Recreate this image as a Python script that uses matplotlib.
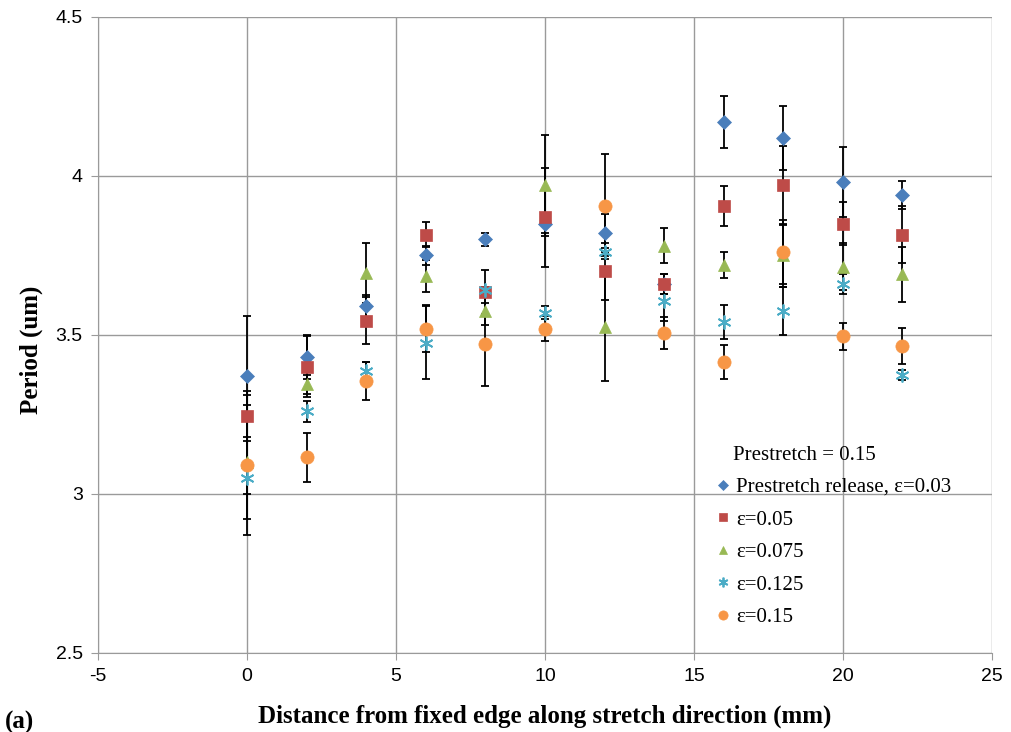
import matplotlib
matplotlib.use("Agg")
import matplotlib.pyplot as plt
from matplotlib.ticker import FormatStrFormatter

plt.rcParams["axes.unicode_minus"] = False

# distance from fixed edge (mm)
x = [0, 2, 4, 6, 8, 10, 12, 14, 16, 18, 20, 22]

# period (um) and error-bar half-widths for each series
release_003 = [3.37, 3.43, 3.59, 3.75, 3.80, 3.85, 3.82, 3.66, 4.17, 4.12, 3.98, 3.94]
release_003_err = [0.19, 0.07, 0.036, 0.03, 0.02, 0.03, 0.06, 0.03, 0.082, 0.10, 0.11, 0.045]

eps_005 = [3.245, 3.40, 3.545, 3.815, 3.635, 3.87, 3.70, 3.66, 3.905, 3.97, 3.85, 3.815]
eps_005_err = [0.08, 0.095, 0.075, 0.04, 0.07, 0.155, 0.09, 0.03, 0.064, 0.125, 0.068, 0.09]

eps_0075 = [3.10, 3.345, 3.695, 3.685, 3.575, 3.97, 3.525, 3.78, 3.72, 3.75, 3.715, 3.69]
eps_0075_err = [0.18, 0.03, 0.095, 0.05, 0.045, 0.16, 0.17, 0.055, 0.04, 0.10, 0.075, 0.087]

eps_0125 = [3.05, 3.26, 3.385, 3.475, 3.64, 3.57, 3.76, 3.605, 3.54, 3.575, 3.66, 3.375]
eps_0125_err = [0.05, 0.033, 0.03, 0.115, 0.012, 0.02, 0.012, 0.06, 0.054, 0.075, 0.03, 0.016]

eps_015 = [3.09, 3.115, 3.355, 3.52, 3.47, 3.52, 3.905, 3.505, 3.415, 3.76, 3.495, 3.465]
eps_015_err = [0.22, 0.077, 0.06, 0.075, 0.13, 0.04, 0.165, 0.05, 0.053, 0.10, 0.042, 0.057]

labels = ["Prestretch release, \u03b5=0.03", "\u03b5=0.05", "\u03b5=0.075",
          "\u03b5=0.125", "\u03b5=0.15"]
colors = ["#4A7EBB", "#BE4B48", "#98B954", "#4BACC6", "#F79646"]
markers = ["D", "s", "^", (6, 2, 0), "o"]
sizes = [7, 9, 9, 10, 9.5]

series = [(release_003, release_003_err), (eps_005, eps_005_err),
          (eps_0075, eps_0075_err), (eps_0125, eps_0125_err), (eps_015, eps_015_err)]

fig = plt.figure(figsize=(10.11, 7.32), dpi=100)
ax = fig.add_axes([0.097, 0.108, 0.884, 0.869])

for vals, err in series:
    ax.errorbar(x, vals, yerr=err, fmt="none", ecolor="black", elinewidth=1.3,
                capsize=2.8, capthick=1.3, zorder=2)
for (vals, err), lab, c, m, s in zip(series, labels, colors, markers, sizes):
    ax.plot(x, vals, linestyle="none", marker=m, color=c, markersize=s,
            markeredgewidth=1.3 if m == (6, 2, 0) else 0.5, label=lab, zorder=3)

ax.set_xlim(-5, 25)
ax.set_ylim(2.5, 4.5)
ax.set_xticks(range(-5, 26, 5))
ax.set_yticks([2.5, 3, 3.5, 4, 4.5])
ax.yaxis.set_major_formatter(FormatStrFormatter("%g"))
ax.grid(True, color="#9a9a9a", linewidth=1.0)
ax.set_axisbelow(True)
for sp in ax.spines.values():
    sp.set_color("#9a9a9a")
ax.spines["top"].set_visible(False)
ax.spines["right"].set_visible(False)
ax.tick_params(axis="both", colors="#9a9a9a", labelcolor="black", length=5,
               labelsize=14, pad=6)
for t in ax.get_xticklabels() + ax.get_yticklabels():
    t.set_family(["Liberation Sans", "DejaVu Sans"])

ax.set_xlabel("Distance from fixed edge along stretch direction (mm)",
              family="Liberation Serif", fontweight="bold", fontsize=18, labelpad=14)
ax.set_ylabel("Period (um)", family="Liberation Serif", fontweight="bold", fontsize=18)
ax.yaxis.set_label_coords(-0.062, 0.476)

leg = ax.legend(loc="upper left", bbox_to_anchor=(0.678, 0.289), frameon=False,
                handletextpad=0.15, handlelength=1.0, labelspacing=0.62,
                markerscale=0.7, borderaxespad=0,
                prop={"family": "Liberation Serif", "size": 15})
ax.text(0.710, 0.31, "Prestretch = 0.15", transform=ax.transAxes,
        family="Liberation Serif", fontsize=15, va="center")

fig.text(0.005, 0.005, "(a)", family="Liberation Serif", fontweight="bold", fontsize=18)

fig.savefig("out.png", dpi=100)
